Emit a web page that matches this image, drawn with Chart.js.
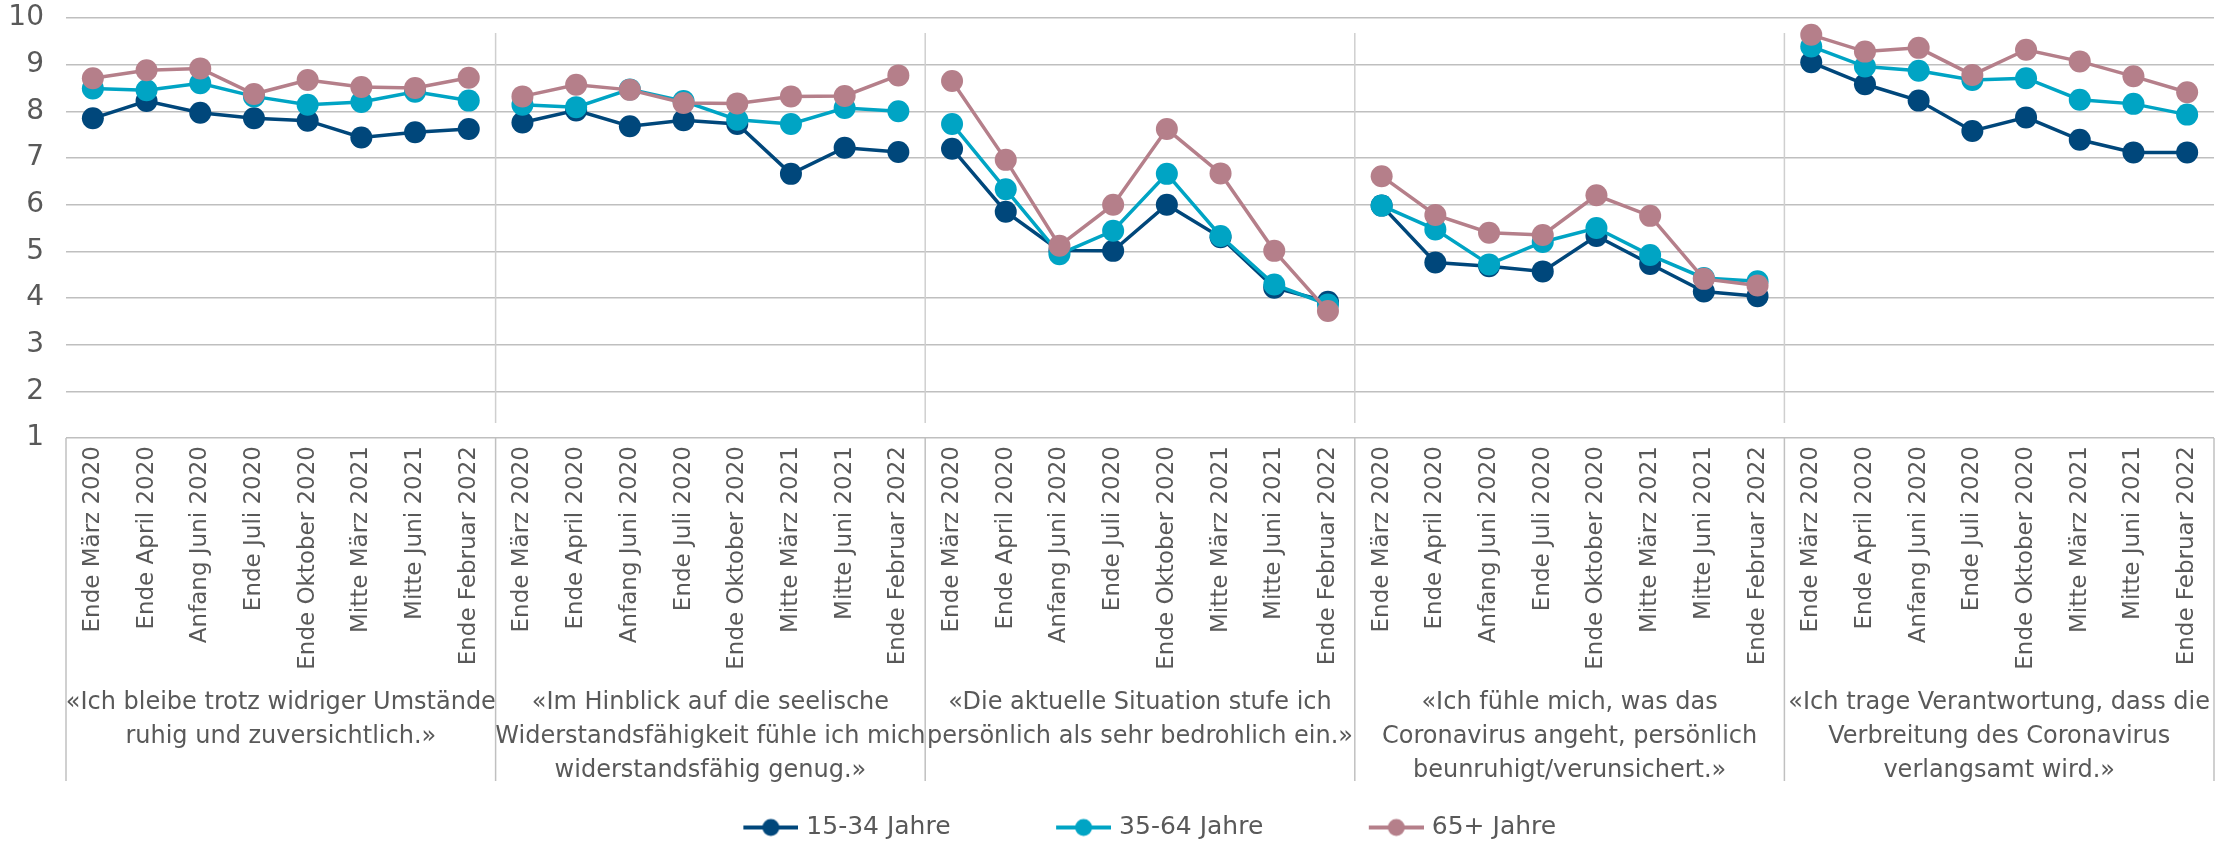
<!DOCTYPE html>
<html><head><meta charset="utf-8">
<script src="https://cdn.jsdelivr.net/npm/chart.js@4.4.0/dist/chart.umd.min.js"></script>
<style>html,body{margin:0;padding:0;background:#fff}#wrap{width:2230px;height:842px;position:relative}</style>
</head><body><div id="wrap"><canvas id="c" width="2230" height="842"></canvas></div>
<script>
const timeLabels = ['Ende März 2020','Ende April 2020','Anfang Juni 2020','Ende Juli 2020','Ende Oktober 2020','Mitte März 2021','Mitte Juni 2021','Ende Februar 2022'];
const statements = [
  ['«Ich bleibe trotz widriger Umstände','ruhig und zuversichtlich.»'],
  ['«Im Hinblick auf die seelische','Widerstandsfähigkeit fühle ich mich','widerstandsfähig genug.»'],
  ['«Die aktuelle Situation stufe ich','persönlich als sehr bedrohlich ein.»'],
  ['«Ich fühle mich, was das','Coronavirus angeht, persönlich','beunruhigt/verunsichert.»'],
  ['«Ich trage Verantwortung, dass die','Verbreitung des Coronavirus','verlangsamt wird.»']
];
const seriesNames = ['15-34 Jahre','35-64 Jahre','65+ Jahre'];
const age15to34 = [7.85,8.22,7.97,7.85,7.80,7.44,7.55,7.62, 7.76,8.02,7.68,7.81,7.73,6.66,7.22,7.13, 7.20,5.85,5.02,5.01,6.00,5.30,4.22,3.92, 5.98,4.76,4.68,4.57,5.33,4.73,4.14,4.04, 9.05,8.58,8.23,7.58,7.87,7.39,7.12,7.12];
const age35to64 = [8.49,8.45,8.60,8.32,8.14,8.20,8.42,8.23, 8.14,8.09,8.47,8.22,7.82,7.73,8.07,8.00, 7.73,6.33,4.94,5.44,6.66,5.33,4.29,3.86, 5.98,5.47,4.72,5.20,5.50,4.92,4.43,4.36, 9.39,8.96,8.87,8.67,8.71,8.25,8.16,7.93];
const age65plus = [8.71,8.88,8.92,8.37,8.67,8.52,8.50,8.72, 8.32,8.57,8.46,8.18,8.17,8.32,8.33,8.77, 8.65,6.96,5.12,6.00,7.62,6.67,5.01,3.72, 6.61,5.78,5.40,5.35,6.20,5.76,4.41,4.27, 9.64,9.28,9.36,8.78,9.32,9.07,8.75,8.41];
const yMin = 1, yMax = 10, yStep = 1;

const colors = ['#00477b','#00a4c4','#b57f8a'];
const txt = '#595959';
const FONT = "'DejaVu Sans', Verdana, sans-serif";
const groupSize = timeLabels.length;
const categories = statements.flatMap(() => timeLabels);
const seriesValues = [age15to34, age35to64, age65plus];

function legendIcon(color){
  const c = document.createElement('canvas');
  c.width = 161; c.height = 24;
  const g = c.getContext('2d');
  g.strokeStyle = color; g.lineWidth = 4; g.lineCap = 'butt';
  g.beginPath(); g.moveTo(106, 12); g.lineTo(161, 12); g.stroke();
  g.fillStyle = color; g.beginPath(); g.arc(133.5, 12, 8.5, 0, Math.PI*2); g.fill();
  return c;
}
const icons = colors.map(legendIcon);

const separators = {
  id: 'separators',
  afterLayout(chart){
    const lg = chart.legend;
    if (lg){ lg.top += 8; lg.bottom += 8; lg.left -= 8; lg.right -= 8; }
  },
  beforeDatasetsDraw(chart){
    const {ctx, chartArea, scales:{x}} = chart;
    const n = statements.length;
    ctx.save(); ctx.strokeStyle = '#cfcfcf'; ctx.lineWidth = 1.5;
    for (let i = 1; i < n; i++){
      const px = x.left + i * x.width / n;
      ctx.beginPath(); ctx.moveTo(px, chartArea.top + 15); ctx.lineTo(px, chartArea.bottom - 15); ctx.stroke();
    }
    ctx.restore();
  },
  afterDraw(chart){
    const {ctx, chartArea, scales:{x, x2}} = chart;
    const n = statements.length;
    ctx.save(); ctx.strokeStyle = '#c0c0c0'; ctx.lineWidth = 1.5;
    for (let i = 0; i <= n; i++){
      const px = x.left + i * x.width / n;
      ctx.beginPath(); ctx.moveTo(px, chartArea.bottom); ctx.lineTo(px, x2.top + 95); ctx.stroke();
    }
    ctx.restore();
  }
};

new Chart(document.getElementById('c'), {
  type: 'line',
  data: {
    labels: categories,
    datasets: seriesValues.map((vals, i) => ({
      label: seriesNames[i],
      data: vals,
      borderColor: colors[i],
      backgroundColor: colors[i],
      pointBackgroundColor: colors[i],
      pointBorderWidth: 0,
      pointRadius: 11,
      pointHoverRadius: 11,
      borderWidth: 3.5,
      tension: 0,
      order: seriesValues.length - i,
      segment: { borderColor: c => (c.p0DataIndex % groupSize === groupSize - 1) ? 'transparent' : undefined }
    }))
  },
  options: {
    responsive: false,
    animation: false,
    devicePixelRatio: 1,
    layout: { padding: { top: 18, right: 16, bottom: 0, left: 0 } },
    plugins: {
      tooltip: { enabled: false },
      legend: {
        position: 'bottom',
        labels: {
          usePointStyle: true,
          pointStyleWidth: 152,
          padding: 4,
          color: txt,
          font: { family: FONT, size: 25 },
          sort: (a, b) => a.datasetIndex - b.datasetIndex,
          generateLabels: chart => chart.data.datasets.map((d, i) => ({
            text: d.label, pointStyle: icons[i], fillStyle: d.borderColor, strokeStyle: d.borderColor,
            lineWidth: 0, hidden: false, datasetIndex: i, fontColor: txt
          }))
        }
      }
    },
    scales: {
      y: {
        min: yMin, max: yMax,
        ticks: { stepSize: yStep, color: txt, font: { family: FONT, size: 28 }, padding: 0 },
        grid: { color: '#bfbfbf', lineWidth: 1.5, drawTicks: true, tickLength: 22, tickColor: 'rgba(0,0,0,0)' },
        border: { display: false },
        afterFit: s => { s.width = 66; }
      },
      x: {
        type: 'category',
        offset: true,
        grid: { display: false, drawTicks: false },
        border: { display: false },
        ticks: { autoSkip: false, minRotation: 90, maxRotation: 90, color: txt, font: { family: FONT, size: 23 }, padding: 8 },
        afterFit: s => { s.height = 248; }
      },
      x2: {
        type: 'category',
        position: 'bottom',
        labels: statements,
        offset: true,
        grid: { display: false, drawTicks: false },
        border: { display: false },
        ticks: { autoSkip: false, maxRotation: 0, minRotation: 0, color: txt, font: { family: FONT, size: 24, lineHeight: 1.42 }, padding: 0 },
        afterFit: s => { s.height = 117; }
      }
    }
  },
  plugins: [separators]
});
</script>
</body></html>
